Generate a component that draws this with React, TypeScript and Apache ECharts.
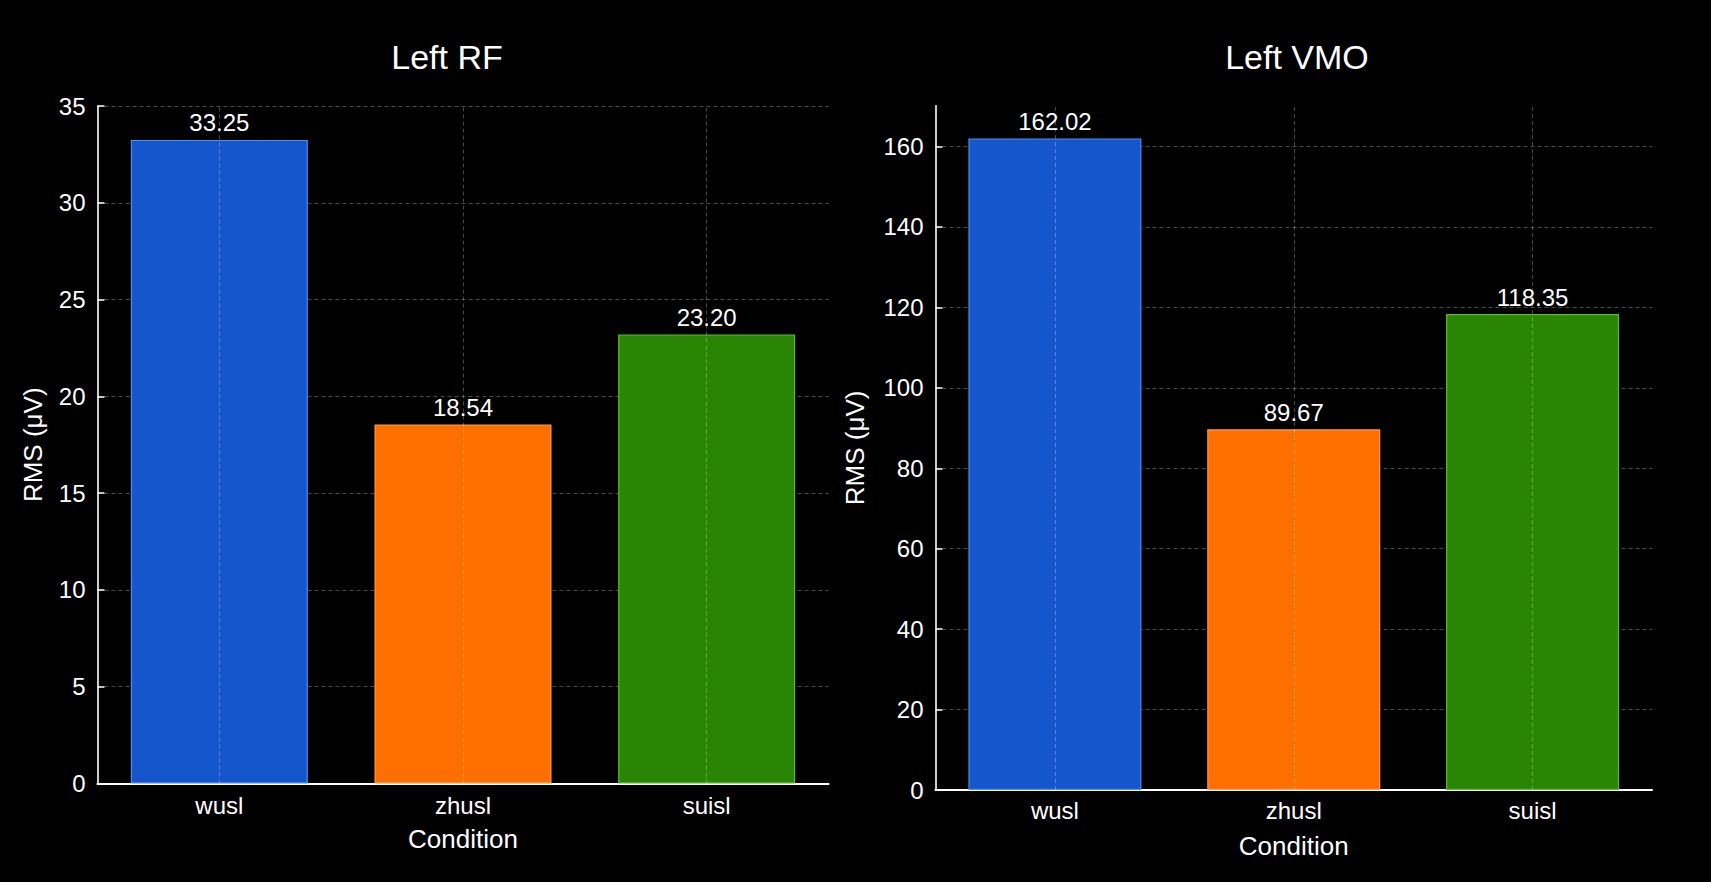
import React, { useEffect, useRef } from "react";
import * as echarts from "echarts";

const categories = ["wusl", "zhusl", "suisl"];
const rfValues = [33.25, 18.54, 23.2];
const vmoValues = [162.02, 89.67, 118.35];
const rfTicks = [0, 5, 10, 15, 20, 25, 30, 35];
const vmoTicks = [0, 20, 40, 60, 80, 100, 120, 140, 160];
const barColors = ["#1656cc", "#ff6f00", "#2b8505"];
const barEdges = ["#4b8ff0", "#ff9a4a", "#5cb83a"];

const FONT = "Liberation Sans";

export default function App() {
  const ref = useRef<HTMLDivElement>(null);
  useEffect(() => {
    if (!ref.current) return;
    const chart = echarts.init(ref.current, undefined, { renderer: "svg" });

    const xAxisBase = (gridIndex: number, margin: number, nameGap: number) => ({
      type: "category",
      gridIndex,
      data: categories,
      boundaryGap: true,
      axisLine: { show: true, lineStyle: { color: "#ffffff", width: 2.2 } },
      axisTick: { show: false },
      axisLabel: { color: "#ffffff", fontSize: 24, fontFamily: FONT, margin },
      splitLine: { show: false },
      name: "Condition",
      nameLocation: "middle",
      nameGap,
      nameTextStyle: { color: "#ffffff", fontSize: 26, fontFamily: FONT },
    });

    const yAxisBase = (gridIndex: number, max: number, interval: number, ticks: number[], nameGap: number) => ({
      type: "value",
      gridIndex,
      min: 0,
      max,
      interval,
      axisLine: { show: true, lineStyle: { color: "#ffffff", width: 1.6 } },
      axisTick: {
        show: true,
        inside: true,
        length: 7,
        customValues: ticks,
        lineStyle: { color: "#ffffff", width: 1.5 },
      },
      axisLabel: {
        color: "#ffffff",
        fontSize: 24,
        fontFamily: FONT,
        margin: 12,
        customValues: ticks,
      },
      splitLine: {
        show: true,
        showMinLine: false,
        lineStyle: { color: "#4a4a4a", width: 1, type: [4, 3] },
      },
      name: "RMS (μV)",
      nameLocation: "middle",
      nameGap,
      nameRotate: 90,
      nameTextStyle: { color: "#ffffff", fontSize: 26, fontFamily: FONT },
    });

    const barSeries = (idx: number, values: number[], barWidth: number) => ({
      type: "bar",
      xAxisIndex: idx,
      yAxisIndex: idx,
      barWidth,
      data: values.map((v, i) => ({
        value: v,
        itemStyle: {
          color: barColors[i],
          borderColor: barEdges[i],
          borderWidth: 1.2,
        },
      })),
      label: {
        show: true,
        position: "top",
        distance: 5,
        color: "#ffffff",
        fontSize: 24,
        fontFamily: FONT,
        formatter: (p: any) => Number(p.value).toFixed(2),
      },
      markLine: {
        silent: true,
        symbol: "none",
        label: { show: false },
        lineStyle: { color: "rgba(255,255,255,0.28)", width: 1, type: [4, 3] },
        data: categories.map((c) => ({ xAxis: c })),
        z: 5,
      },
    });

    chart.setOption({
      animation: false,
      backgroundColor: "#000000",
      textStyle: { fontFamily: FONT },
      grid: [
        { left: 97.5, top: 106, width: 731, height: 677.5, containLabel: false },
        { left: 935.5, top: 105.8, width: 716.5, height: 684.2, containLabel: false },
      ],
      xAxis: [xAxisBase(0, 9.5, 42.5), xAxisBase(1, 8, 43)],
      yAxis: [
        yAxisBase(0, 35, 5, rfTicks, 51.5),
        yAxisBase(1, 170.12, 20, vmoTicks, 67.5),
      ],
      series: [barSeries(0, rfValues, 177), barSeries(1, vmoValues, 173)],
      graphic: [
        {
          type: "text",
          x: 447,
          y: 57,
          style: {
            text: "Left RF",
            fill: "#ffffff",
            font: `34px "${FONT}"`,
            textAlign: "center",
            textVerticalAlign: "middle",
          },
        },
        {
          type: "text",
          x: 1297,
          y: 57,
          style: {
            text: "Left VMO",
            fill: "#ffffff",
            font: `34px "${FONT}"`,
            textAlign: "center",
            textVerticalAlign: "middle",
          },
        },
      ],
    });
    return () => chart.dispose();
  }, []);

  return (
    <div
      ref={ref}
      style={{
        position: "absolute",
        left: 0,
        top: 0,
        width: 1711,
        height: 882,
        background: "#000000",
      }}
    />
  );
}
